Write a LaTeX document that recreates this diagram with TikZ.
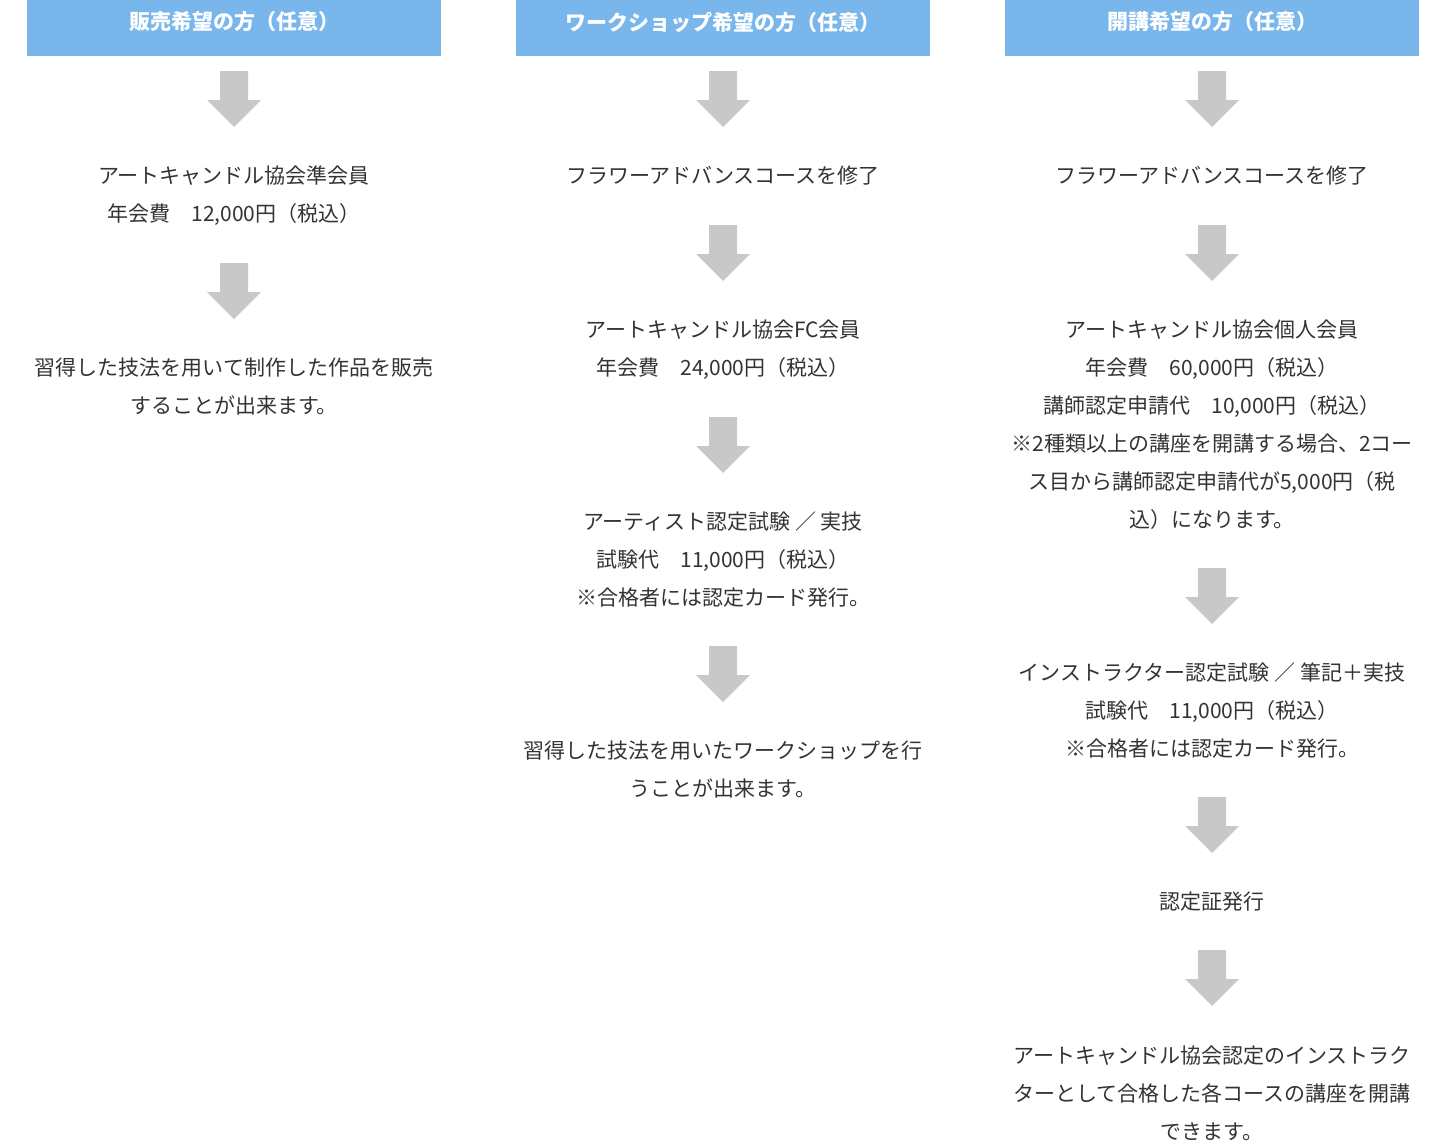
\documentclass[tikz,border=0pt]{standalone}
\usepackage{fontspec}
\setmainfont{Noto Sans CJK JP}
\definecolor{headblue}{HTML}{78B6EC}
\definecolor{arrowgray}{HTML}{C8C8C8}
\definecolor{textgray}{HTML}{333333}
\tikzset{
  head/.style={fill=headblue,minimum width=414pt,minimum height=56pt,inner sep=0pt},
  headtext/.style={text=white,inner sep=0pt,font=\fontsize{21pt}{24pt}\selectfont\bfseries},
  stepbox/.style={anchor=base,align=center,inner sep=0pt,text=textgray,
    font=\fontsize{21pt}{38pt}\selectfont},
  darrow/.pic={\fill[arrowgray] (-14,0) -- (14,0) -- (14,29) -- (27,29) -- (0,56)
    -- (-27,29) -- (-14,29) -- cycle;}
}
\begin{document}
\begin{tikzpicture}[x=1pt,y=-1pt]
\useasboundingbox (0,0) rectangle (1445,1146);

% column 1
\node[head] (h1) at (234,28) {};
\node[headtext] at (234,22) {販売希望の方（任意）};
\pic at (234,71) {darrow};
\node[stepbox] (a1) at (234,221) {アートキャンドル協会準会員\\年会費　12,000円（税込）};
\pic at (234,263) {darrow};
\node[stepbox] (a2) at (234,413) {習得した技法を用いて制作した作品を販売\\することが出来ます。};

% column 2
\node[head] (h2) at (723,28) {};
\node[headtext] at (723,22) {ワークショップ希望の方（任意）};
\pic at (723,71) {darrow};
\node[stepbox] (b1) at (723,183) {フラワーアドバンスコースを修了};
\pic at (723,225) {darrow};
\node[stepbox] (b2) at (723,375) {アートキャンドル協会FC会員\\年会費　24,000円（税込）};
\pic at (723,417) {darrow};
\node[stepbox] (b3) at (723,605) {アーティスト認定試験 ／ 実技\\試験代　11,000円（税込）\\※合格者には認定カード発行。};
\pic at (723,646) {darrow};
\node[stepbox] (b4) at (723,796) {習得した技法を用いたワークショップを行\\うことが出来ます。};

% column 3
\node[head] (h3) at (1212,28) {};
\node[headtext] at (1212,22) {開講希望の方（任意）};
\pic at (1212,71) {darrow};
\node[stepbox] (c1) at (1212,183) {フラワーアドバンスコースを修了};
\pic at (1212,225) {darrow};
\node[stepbox] (c2) at (1212,527) {アートキャンドル協会個人会員\\年会費　60,000円（税込）\\講師認定申請代　10,000円（税込）\\※2種類以上の講座を開講する場合、2コー\\ス目から講師認定申請代が5,000円（税\\込）になります。};
\pic at (1212,568) {darrow};
\node[stepbox] (c3) at (1212,756) {インストラクター認定試験 ／ 筆記＋実技\\試験代　11,000円（税込）\\※合格者には認定カード発行。};
\pic at (1212,797) {darrow};
\node[stepbox] (c4) at (1212,909) {認定証発行};
\pic at (1212,950) {darrow};
\node[stepbox] (c5) at (1212,1139) {アートキャンドル協会認定のインストラク\\ターとして合格した各コースの講座を開講\\できます。};
\end{tikzpicture}
\end{document}
